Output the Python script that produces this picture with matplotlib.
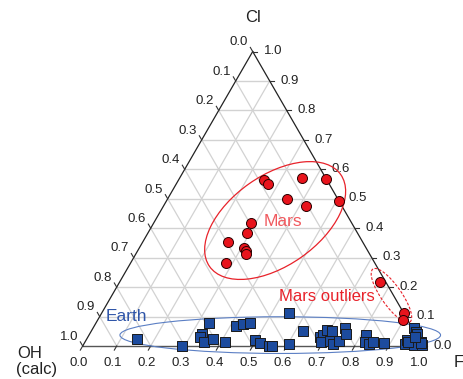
import numpy as np
import matplotlib
matplotlib.use("Agg")
import matplotlib.pyplot as plt
from matplotlib.patches import Ellipse

plt.rcParams['font.family'] = ['Liberation Sans', 'DejaVu Sans']

# ---- data: ternary fractions (F, Cl); OH = 1 - F - Cl ----
mars_F = [0.253, 0.270, 0.361, 0.432, 0.352, 0.417, 0.508, 0.287, 0.292,
          0.252, 0.309, 0.317, 0.325, 0.281]
mars_Cl = [0.563, 0.551, 0.570, 0.568, 0.499, 0.477, 0.492, 0.417, 0.383,
           0.352, 0.332, 0.324, 0.312, 0.282]

outlier_F = [0.767, 0.888, 0.900]
outlier_Cl = [0.217, 0.112, 0.087]

earth_F = [0.148, 0.292, 0.332, 0.331, 0.330, 0.350, 0.371, 0.410, 0.416,
           0.434, 0.452, 0.496, 0.517, 0.547, 0.556, 0.549, 0.602, 0.623,
           0.684, 0.689, 0.691, 0.708, 0.693, 0.719, 0.734, 0.745, 0.741,
           0.754, 0.815, 0.822, 0.838, 0.848, 0.881, 0.944, 0.943, 0.945,
           0.956, 0.964, 0.973, 0.987, 0.997, 0.949, 0.990, 0.962]
earth_Cl = [0.024, 0.000, 0.078, 0.041, 0.029, 0.015, 0.023, 0.015, 0.068,
            0.074, 0.079, 0.019, 0.011, 0.000, 0.000, 0.113, 0.008, 0.050,
            0.029, 0.038, 0.053, 0.051, 0.015, 0.017, 0.006, 0.018, 0.061,
            0.040, 0.037, 0.014, 0.006, 0.014, 0.009, 0.007, 0.019, 0.060,
            0.048, 0.040, 0.003, 0.015, 0.003, 0.015, 0.009, 0.030]

tick_values = [0.0, 0.1, 0.2, 0.3, 0.4, 0.5, 0.6, 0.7, 0.8, 0.9, 1.0]
tick_labels = ["0.0", "0.1", "0.2", "0.3", "0.4", "0.5", "0.6", "0.7", "0.8", "0.9", "1.0"]

axis_top = "Cl"
axis_left = ["OH", "(calc)"]
axis_right = "F"

H = np.sqrt(3) / 2


def tern(F, Cl):
    F = np.asarray(F, float)
    Cl = np.asarray(Cl, float)
    return F + Cl / 2.0, Cl * H


fig = plt.figure(figsize=(4.63, 3.79), dpi=100)
ax = fig.add_axes([0, 0, 1, 1])
ax.set_xlim(-0.2432, 1.1185)
ax.set_ylim(-0.0971, 1.0176)
ax.axis('off')

grid_col = '#d2d2d2'
# grid lines
for v in tick_values[1:-1]:
    # constant Cl (horizontal)
    x, y = tern([0, 1 - v], [v, v])
    ax.plot(x, y, color=grid_col, lw=1.0, zorder=1)
    # constant F (parallel to left edge)
    x, y = tern([v, v], [0, 1 - v])
    ax.plot(x, y, color=grid_col, lw=0.9, zorder=1)
    # constant OH (parallel to right edge)
    x, y = tern([1 - v, 0], [0, 1 - v])
    ax.plot(x, y, color=grid_col, lw=0.9, zorder=1)

# triangle edges
x, y = tern([0, 1], [0, 0])
ax.plot(x, y, color='#555555', lw=1.0, zorder=2)
x, y = tern([0, 0], [0, 1])
ax.plot(x, y, color='#222222', lw=0.9, zorder=2)
x, y = tern([1, 0], [0, 1])
ax.plot(x, y, color='#222222', lw=0.9, zorder=2)

tl = 0.014
lab_kw = dict(fontsize=9.5, color='#222222', va='center')
for v, s in zip(tick_values, tick_labels):
    # bottom axis: F
    x0, y0 = tern(v, 0)
    ax.plot([x0, x0 - tl * 0.5], [y0, y0 - tl * H], color='#333333', lw=0.8, zorder=2)
    ax.text(x0 - 0.011, y0 - 0.05, s, ha='center', **lab_kw)
    # right edge: Cl
    x0, y0 = tern(1 - v, v)
    ax.plot([x0, x0 + tl], [y0, y0], color='#333333', lw=0.8, zorder=2)
    ax.text(x0 + 0.059, y0 + 0.001, s, ha='center', **lab_kw)
    # left edge: OH
    x0, y0 = tern(0, 1 - v)
    ax.plot([x0, x0 - tl * 0.5], [y0, y0 + tl * H], color='#333333', lw=0.8, zorder=2)
    ax.text(x0 - 0.041, y0 + 0.027, s, ha='center', **lab_kw)

# ellipses
ax.add_patch(Ellipse((0.566, 0.369), 0.471, 0.265, angle=35, fill=False,
                     ec='#e8222a', lw=0.9, zorder=3))
ax.add_patch(Ellipse((0.908, 0.1485), 0.19, 0.059, angle=-55, fill=False,
                     ec='#e8222a', lw=0.8, ls=(0, (2.5, 1.5)), zorder=3))
ax.add_patch(Ellipse((0.581, 0.032), 0.943, 0.108, angle=0, fill=False,
                     ec='#5b7fc4', lw=0.8, zorder=3))

# data points
x, y = tern(earth_F, earth_Cl)
ax.scatter(x, y, marker='s', s=50, c='#1c4b9e', edgecolors='#1a1a1a',
           linewidths=0.7, zorder=4)
x, y = tern(mars_F, mars_Cl)
ax.scatter(x, y, marker='o', s=52, c='#e8141c', edgecolors='#2a0000',
           linewidths=0.7, zorder=5)
x, y = tern(outlier_F, outlier_Cl)
ax.scatter(x, y, marker='o', s=52, c='#e8141c', edgecolors='#2a0000',
           linewidths=0.7, zorder=5)

# axis titles
ax.text(0.501, 0.965, axis_top, fontsize=12, ha='center', va='center', color='#222222')
ax.text(-0.193, -0.0235, axis_left[0], fontsize=12, ha='left', va='center', color='#222222')
ax.text(-0.195, -0.0706, axis_left[1], fontsize=12, ha='left', va='center', color='#222222')
ax.text(1.107, -0.05, axis_right, fontsize=12, ha='center', va='center', color='#222222')

# group labels
ax.text(0.588, 0.365, "Mars", fontsize=12.5, ha='center', va='center', color='#f0595e', zorder=6)
ax.text(0.718, 0.147, "Mars outliers", fontsize=12, ha='center', va='center', color='#e8222a', zorder=6)
ax.text(0.128, 0.088, "Earth", fontsize=12.5, ha='center', va='center', color='#2f55a8', zorder=6)

fig.savefig("out.png", dpi=100)
